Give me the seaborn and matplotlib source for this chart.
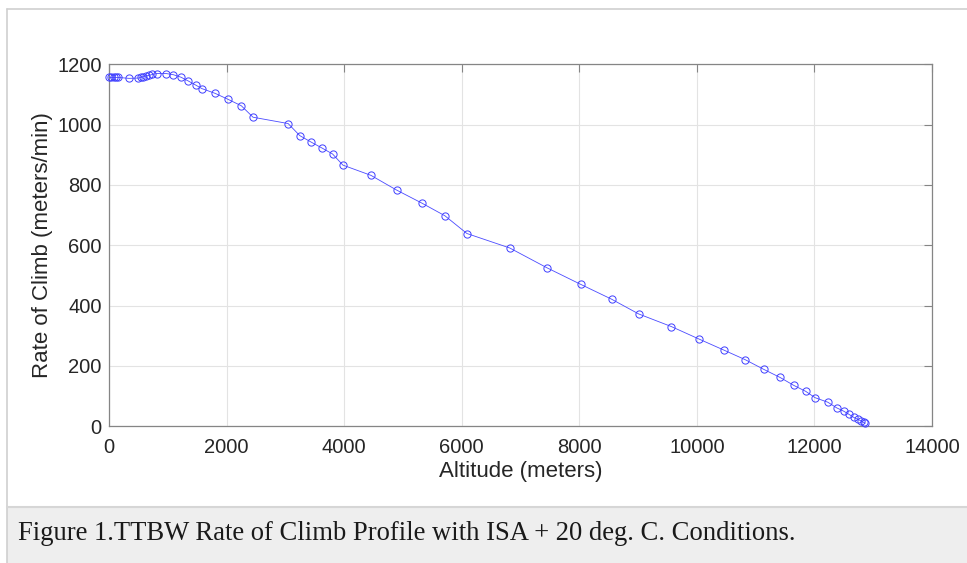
import matplotlib
matplotlib.use("Agg")
import matplotlib.pyplot as plt
import seaborn as sns
import pandas as pd
from matplotlib.patches import Rectangle
from matplotlib.lines import Line2D

altitude_m = [0, 40, 80, 120, 160, 341, 500, 540, 575, 626, 682, 739, 813,
              972, 1097, 1222, 1342, 1472, 1580, 1808, 2029, 2251, 2450,
              3047, 3245, 3433, 3621, 3803, 3979, 4456, 4894, 5321, 5713,
              6088, 6816, 7452, 8026, 8549, 9010, 9567, 10044, 10459, 10824,
              11138, 11417, 11647, 11852, 12011, 12227, 12381, 12500, 12585,
              12665, 12739, 12795, 12836, 12863]
rate_of_climb = [1157, 1157, 1157, 1157, 1157, 1154, 1155, 1157, 1159, 1162,
                 1164, 1167, 1170, 1170, 1166, 1158, 1146, 1132, 1120, 1104,
                 1084, 1063, 1025, 1004, 964, 943, 923, 903, 866, 832, 783,
                 740, 698, 639, 591, 525, 470, 421, 372, 330, 288, 252, 220,
                 188, 161, 135, 115, 94, 79, 60, 49, 39, 29, 22, 17, 12, 9]
x_ticks = [0, 2000, 4000, 6000, 8000, 10000, 12000, 14000]
y_ticks = [0, 200, 400, 600, 800, 1000, 1200]
caption = "Figure 1.TTBW Rate of Climb Profile with ISA + 20 deg. C. Conditions."

sns.set_style("white")
plt.rcParams['font.family'] = ['Liberation Sans', 'DejaVu Sans']

W, H = 967, 563
fig = plt.figure(figsize=(W / 100, H / 100), dpi=100)
fig.patch.set_facecolor('white')

# outer frame and caption box
fig.add_artist(Line2D([7 / W, 1], [1 - 9 / H, 1 - 9 / H], transform=fig.transFigure,
                      color='#cfcfcf', lw=1.2))
fig.add_artist(Line2D([7 / W, 7 / W], [0, 1 - 9 / H], transform=fig.transFigure,
                      color='#cfcfcf', lw=1.2))
fig.add_artist(Rectangle((7 / W, 0), 1 - 7 / W, 1 - 507 / H, transform=fig.transFigure,
                         facecolor='#eeeeee', edgecolor='none'))
fig.add_artist(Line2D([7 / W, 1], [1 - 507 / H, 1 - 507 / H], transform=fig.transFigure,
                      color='#d6d6d6', lw=1.5))
fig.text(18 / W, 1 - 540 / H, caption, fontfamily='Liberation Serif', fontsize=19.2,
         color='#1a1a1a', va='baseline', ha='left')

left, right, top, bottom = 109, 932, 64.5, 426
ax = fig.add_axes([left / W, 1 - bottom / H, (right - left) / W, (bottom - top) / H])

df = pd.DataFrame({"Altitude": altitude_m, "ROC": rate_of_climb})
sns.lineplot(data=df, x="Altitude", y="ROC", ax=ax, sort=False, estimator=None,
             color='#4a4aff', lw=0.6, marker='o', markersize=5.2,
             markerfacecolor='none', markeredgecolor='#4040ff', markeredgewidth=0.7,
             clip_on=False, zorder=3)

ax.set_xlim(0, 14000)
ax.set_ylim(0, 1200)
ax.set_xticks(x_ticks)
ax.set_yticks(y_ticks)
ax.set_xticklabels([str(t) for t in x_ticks])
ax.set_yticklabels([str(t) for t in y_ticks])
ax.grid(True, color='#e3e3e3', lw=0.8)
ax.set_axisbelow(True)
for s in ax.spines.values():
    s.set_color('#858585')
    s.set_linewidth(0.9)
    s.set_visible(True)
ax.tick_params(axis='both', direction='in', length=5.5, width=0.8, color='#858585',
               labelsize=14.5, labelcolor='#262626', top=True, right=True)
ax.tick_params(axis='x', pad=8.5)
ax.tick_params(axis='y', pad=5.2)
ax.set_xlabel("Altitude (meters)", fontsize=16, color='#262626', labelpad=3)
ax.set_ylabel("Rate of Climb (meters/min)", fontsize=16, color='#262626', labelpad=3)

fig.savefig("out.png", dpi=100)
